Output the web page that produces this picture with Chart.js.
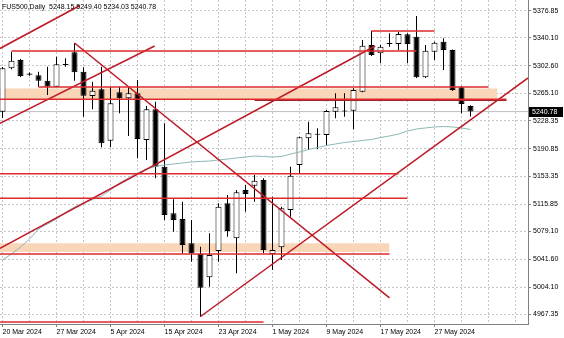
<!DOCTYPE html>
<html><head><meta charset="utf-8">
<script src="https://cdn.jsdelivr.net/npm/chart.js@4.4.1/dist/chart.umd.min.js"></script>
<style>html,body{margin:0;padding:0;background:#fff;}canvas{display:block;}</style>
</head><body>
<canvas id="c" width="564" height="338"></canvas>
<script>
// ---------- data ----------
const symbolTitle = 'FUS500,Daily';
const opens  = [5240.6,5299.2,5310.4,5292.1,5289.7,5282.4,5274.3,5304.6,5320.7,5294.6,5261.8,5270.8,5201.5,5266.8,5258.7,5265.4,5202.4,5243.8,5166.4,5103.6,5095.9,5063.1,5048.7,5017.3,5052.7,5117.0,5069.9,5135.0,5140.8,5148.5,5048.7,5057.7,5108.0,5168.7,5204.7,5210.5,5209.2,5240.6,5241.9,5242.0,5267.6,5330.6,5319.4,5331.9,5331.9,5345.0,5341.8,5287.0,5321.5,5335.0,5323.8,5273.5,5248.15];
const highs  = [5301.0,5321.5,5311.8,5293.5,5294.6,5301.3,5314.8,5312.6,5333.3,5300.5,5281.1,5301.3,5274.3,5274.3,5274.3,5283.4,5248.3,5254.1,5225.0,5122.4,5119.2,5094.5,5058.5,5076.6,5117.0,5128.3,5135.0,5141.7,5155.2,5151.0,5126.0,5112.5,5166.4,5206.9,5227.1,5218.2,5242.9,5265.4,5265.4,5272.2,5337.3,5349.5,5330.6,5346.4,5348.5,5346.4,5369.7,5330.6,5335.0,5339.6,5324.5,5275.3,5249.40];
const lows   = [5232.1,5298.0,5287.4,5289.0,5274.3,5263.1,5274.0,5301.3,5282.4,5233.9,5243.8,5192.6,5192.6,5238.5,5207.9,5177.8,5175.5,5150.8,5094.5,5078.8,5049.6,5038.3,4964.1,5004.6,5038.3,5072.0,5022.7,5105.7,5119.2,5049.9,5027.0,5040.6,5099.0,5157.5,5189.0,5189.9,5195.7,5231.7,5233.9,5217.0,5267.0,5315.7,5305.9,5328.3,5323.8,5305.9,5286.0,5286.0,5310.3,5296.9,5268.5,5238.5,5234.03];
const closes = [5299.2,5309.4,5288.8,5290.5,5282.4,5274.3,5304.6,5303.6,5293.8,5262.2,5268.9,5198.0,5251.9,5258.7,5265.4,5203.8,5243.8,5166.4,5101.3,5094.5,5060.8,5049.6,5003.2,5047.4,5112.5,5079.7,5131.9,5129.6,5147.5,5054.1,5054.1,5110.3,5154.3,5206.1,5211.5,5209.5,5241.5,5246.6,5241.0,5269.9,5329.6,5317.1,5328.3,5333.3,5345.4,5331.9,5287.0,5322.9,5333.7,5323.8,5269.9,5251.0,5240.78];
const maValues = [5040.6,5048.7,5058.1,5068.9,5082.4,5089.2,5095.9,5104.7,5112.1,5117.5,5122.2,5126.9,5135.0,5144.5,5151.2,5157.9,5163.3,5166.7,5168.7,5170.1,5171.4,5172.8,5173.5,5174.1,5175.5,5176.8,5178.2,5179.5,5180.8,5180.2,5179.5,5180.2,5183.5,5186.2,5189.6,5192.3,5195.0,5197.1,5199.1,5200.4,5201.8,5203.1,5205.8,5207.9,5210.5,5214.6,5217.3,5218.7,5220.0,5220.7,5220.0,5218.7,5216.6];
const priceTicks = [5376.85,5340.10,5302.60,5265.10,5228.35,5190.85,5153.35,5115.85,5079.10,5041.60,5004.10,4967.35];
const dateTickIndex = [0,6,12,18,24,30,36,42,48];
const dateTickText = ['20 Mar 2024','27 Mar 2024','5 Apr 2024','15 Apr 2024','23 Apr 2024','1 May 2024','9 May 2024','17 May 2024','27 May 2024'];
// horizontal levels (price, from bar, to bar)
const levelPrices = [5322.5,5349.5,5273.9,5257.4,5157.0,5123.8,5048.7,4957.0];
const levelFrom   = [1,41,4,-0.3,-0.3,-0.3,-0.3,-0.3];
const levelTo     = [46,48,54,56,44,45,43,29];
const minorLevelPrices = [5255.7];
const minorLevelFrom = [28];
const minorLevelTo = [56];
// shaded zones
const zoneHigh = [5271.9,5063.1];
const zoneLow  = [5257.1,5051.4];
const zoneFrom = [-0.3,-0.3];
const zoneTo   = [55,43];
// trend lines
const trendFromIdx   = [-0.28,-0.28,-0.28,8,22];
const trendFromPrice = [5325.9,5225.0,5056.4,5333.3,4964.4];
const trendToIdx     = [8.6,16.9,41.4,43,58.4];
const trendToPrice   = [5383.9,5329.2,5329.2,4989.4,5286.1];

// ---------- chart ----------
const xMin = -2.5/9, xMax = (528-2.5)/9;
const yMin = 4954.27, yMax = 5391.28;
const idx = opens.map((_, i) => i);
const bull = idx.map(i => closes[i] >= opens[i]);
const gridIdx = []; for (let i = 0; i <= 57; i += 3) gridIdx.push(i);

const datasets = [];
levelPrices.forEach((p, k) => datasets.push({type:'line', data:[{x:levelFrom[k],y:p},{x:levelTo[k],y:p}], borderColor:'#dd2a2e', borderWidth:1.5, pointRadius:0, fill:false, order:1}));
minorLevelPrices.forEach((p, k) => datasets.push({type:'line', data:[{x:minorLevelFrom[k],y:p},{x:minorLevelTo[k],y:p}], borderColor:'#a3202a', borderWidth:1, pointRadius:0, fill:false, order:1}));
trendFromIdx.forEach((fx, k) => datasets.push({type:'line', data:[{x:fx,y:trendFromPrice[k]},{x:trendToIdx[k],y:trendToPrice[k]}], borderColor:'#bd1a26', borderWidth:1.5, pointRadius:0, fill:false, order:1}));
datasets.push({type:'line', data: idx.map(i => ({x:i, y:maValues[i]})), borderColor:'#8db8b6', borderWidth:1, pointRadius:0, fill:false, tension:0, order:2});
datasets.push({type:'bar', data: idx.map(i => ({x:i, y:[opens[i], closes[i]]})), backgroundColor: idx.map(i => bull[i] ? '#ffffff' : '#000000'), borderColor:'#000000', borderWidth:1, borderSkipped:false, barThickness:6, grouped:false, minBarLength:1, inflateAmount:0, order:3});
datasets.push({type:'bar', data: idx.map(i => ({x:i, y:[lows[i], highs[i]]})), backgroundColor:'#000000', borderWidth:0, barThickness:1, grouped:false, inflateAmount:0, order:4});
datasets.push({type:'line', data:[{x:xMin,y:closes[closes.length-1]},{x:xMax,y:closes[closes.length-1]}], borderColor:'#c0c0c0', borderWidth:1, pointRadius:0, fill:false, order:5});
zoneHigh.forEach((h, k) => datasets.push({type:'line', data:[{x:zoneFrom[k],y:h},{x:zoneTo[k],y:h}], borderWidth:0, borderColor:'rgba(0,0,0,0)', backgroundColor:'#f9d6b8', pointRadius:0, fill:{value:zoneLow[k]}, order:6}));

const font = {family:'"Liberation Sans", Arial, sans-serif', size:7};
const overlay = {
  id:'overlay',
  beforeDraw(chart){ const c = chart.ctx; c.save(); c.fillStyle='#fff'; c.fillRect(0,0,chart.width,chart.height); c.restore(); },
  afterDraw(chart){
    const c = chart.ctx, y = chart.scales.y, n = opens.length - 1;
    c.save();
    c.font = '7px "Liberation Sans", Arial, sans-serif';
    c.textBaseline = 'middle'; c.textAlign = 'left';
    c.fillStyle = '#000';
    c.fillText(symbolTitle + '  ' + opens[n].toFixed(2) + ' ' + highs[n].toFixed(2) + ' ' + lows[n].toFixed(2) + ' ' + closes[n].toFixed(2), 2, 7);
    const py = y.getPixelForValue(closes[n]);
    c.fillRect(y.left + 1, Math.round(py) - 5, 34, 10);
    c.fillStyle = '#fff';
    c.fillText(closes[n].toFixed(2), y.left + 4, py);
    c.restore();
  }
};

new Chart(document.getElementById('c'), {
  type:'line',
  data:{datasets},
  plugins:[overlay],
  options:{
    responsive:false, animation:false, devicePixelRatio:1, events:[],
    layout:{padding:0},
    plugins:{legend:{display:false}, tooltip:{enabled:false}, title:{display:false}},
    scales:{
      x:{type:'linear', min:xMin, max:xMax, offset:false,
        grid:{offset:false, color:'#c6c6c6', lineWidth:1, tickLength:3, tickBorderDash:[],
          tickColor: ctx => (ctx.tick && dateTickIndex.includes(ctx.tick.value)) ? '#808080' : 'rgba(0,0,0,0)'},
        border:{display:true, color:'#808080', width:1, dash:[2,2]},
        ticks:{autoSkip:false, maxRotation:0, minRotation:0, align:'start', padding:1, color:'#000', font,
          callback: v => { const k = dateTickIndex.indexOf(v); return k >= 0 ? dateTickText[k] : ''; }},
        afterBuildTicks: s => { s.ticks = gridIdx.map(v => ({value:v})); },
        afterFit: s => { s.height = 14; s.paddingLeft = 0; s.paddingRight = 0; }
      },
      y:{type:'linear', position:'right', min:yMin, max:yMax,
        grid:{color:'#c6c6c6', lineWidth:1, tickLength:3, tickColor:'#808080', tickBorderDash:[]},
        border:{display:true, color:'#808080', width:1, dash:[2,2]},
        ticks:{padding:2, color:'#000', font, callback: v => Number(v).toFixed(2)},
        afterBuildTicks: s => { s.ticks = priceTicks.map(v => ({value:v})); },
        afterFit: s => { s.width = 36; s.paddingTop = 0; s.paddingBottom = 0; }
      }
    }
  }
});
</script>
</body></html>
